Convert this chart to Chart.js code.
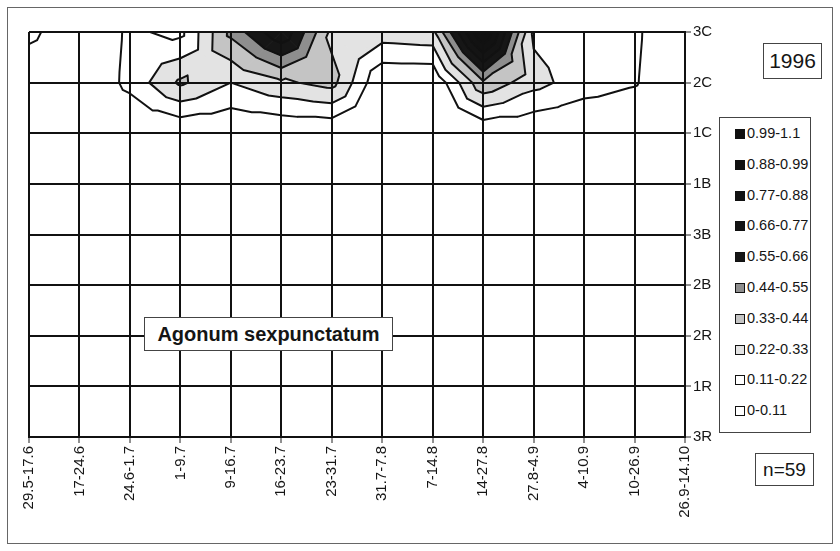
<!DOCTYPE html>
<html>
<head>
<meta charset="utf-8">
<script src="https://cdn.jsdelivr.net/npm/chart.js@4"></script>
<style>
  html, body { margin: 0; padding: 0; background: #fff; }
  #wrap { position: relative; width: 840px; height: 551px; overflow: hidden; }
  #frame { position: absolute; left: 7px; top: 7px; width: 826px; height: 537px; border: 1px solid #666; box-sizing: border-box; }
  #c { position: absolute; left: 0; top: 0; }
  .box { position: absolute; border: 1px solid #444; background: #fff; color: #151515;
         font-family: 'Liberation Sans', Arial, sans-serif; box-sizing: border-box; }
  #year { left: 763px; top: 43px; width: 59px; height: 36px; font-size: 21px; line-height: 34px; text-align: center; }
  #count { left: 755px; top: 453px; width: 59px; height: 33px; font-size: 19px; line-height: 31px; text-align: center; }
  #species { left: 144px; top: 317px; width: 249px; height: 34px; font-size: 20px; font-weight: bold; line-height: 32px; text-align: center; }
  #legend { left: 719px; top: 117px; width: 92px; height: 316px; }
  .item { position: absolute; left: 15px; height: 20px; font-size: 14.5px; line-height: 20px; white-space: nowrap; }
  .sw { display: inline-block; width: 10px; height: 10px; border: 1px solid #111; box-sizing: border-box; vertical-align: -1px; margin-right: 2px; }
</style>
</head>
<body>
<div id="wrap">
  <div id="frame"></div>
  <canvas id="c" width="840" height="551"></canvas>
  <div class="box" id="year">1996</div>
  <div class="box" id="legend"></div>
  <div class="box" id="species">Agonum sexpunctatum</div>
  <div class="box" id="count">n=59</div>
</div>
<script>
// Sampling periods along the x axis
const xLabels = ['29.5-17.6', '17-24.6', '24.6-1.7', '1-9.7', '9-16.7', '16-23.7', '23-31.7',
                 '31.7-7.8', '7-14.8', '14-27.8', '27.8-4.9', '4-10.9', '10-26.9', '26.9-14.10'];
// Trap rows, top to bottom
const yLabels = ['3C', '2C', '1C', '1B', '3B', '2B', '2R', '1R', '3R'];

// Relative catch per trap row and period
const z3C = [0.145, 0, 0.13, 0.08, 0.47, 0.76, 0.30, 0.28, 0.30, 1.02, 0.20, 0.15, 0.13, 0];
const z2C = [0, 0, 0.14, 0.35, 0.22, 0.31, 0.37, 0, 0, 0.42, 0.26, 0.16, 0.12, 0];
const z1C = [0, 0, 0, 0, 0, 0, 0, 0, 0, 0, 0, 0, 0, 0];
const z1B = [0, 0, 0, 0, 0, 0, 0, 0, 0, 0, 0, 0, 0, 0];
const z3B = [0, 0, 0, 0, 0, 0, 0, 0, 0, 0, 0, 0, 0, 0];
const z2B = [0, 0, 0, 0, 0, 0, 0, 0, 0, 0, 0, 0, 0, 0];
const z2R = [0, 0, 0, 0, 0, 0, 0, 0, 0, 0, 0, 0, 0, 0];
const z1R = [0, 0, 0, 0, 0, 0, 0, 0, 0, 0, 0, 0, 0, 0];
const z3R = [0, 0, 0, 0, 0, 0, 0, 0, 0, 0, 0, 0, 0, 0];
const rows = [z3C, z2C, z1C, z1B, z3B, z2B, z2R, z1R, z3R];

// Contour band limits and their legend labels (lowest band first)
const levels = [0, 0.11, 0.22, 0.33, 0.44, 0.55, 0.66, 0.77, 0.88, 0.99, 1.1];
const bandLabels = ['0-0.11', '0.11-0.22', '0.22-0.33', '0.33-0.44', '0.44-0.55',
                    '0.55-0.66', '0.66-0.77', '0.77-0.88', '0.88-0.99', '0.99-1.1'];
const bandColors = ['#ffffff', '#ffffff', '#e3e3e3', '#c4c4c4', '#8e8e8e',
                    '#161616', '#141414', '#121212', '#111111', '#101010'];

const FONT = "'Liberation Sans', Arial, sans-serif";

// Legend, highest band on top
(function buildLegend() {
  const el = document.getElementById('legend');
  for (let k = bandLabels.length - 1, n = 0; k >= 0; k--, n++) {
    const d = document.createElement('div');
    d.className = 'item';
    d.style.top = (5 + n * 30.8) + 'px';
    d.innerHTML = '<span class="sw" style="background:' + bandColors[k] + '"></span>' + bandLabels[k];
    el.appendChild(d);
  }
})();

// Keep the part of a polygon on one side of a level of z
function clipPoly(poly, level, keepAbove) {
  const out = [];
  for (let k = 0; k < poly.length; k++) {
    const a = poly[k], b = poly[(k + 1) % poly.length];
    const ina = keepAbove ? a.z >= level : a.z <= level;
    const inb = keepAbove ? b.z >= level : b.z <= level;
    if (ina) out.push(a);
    if (ina !== inb) {
      const t = (level - a.z) / (b.z - a.z);
      out.push({ x: a.x + t * (b.x - a.x), y: a.y + t * (b.y - a.y), z: level });
    }
  }
  return out;
}

// Filled contour bands and contour lines, drawn under the grid
const contourPlugin = {
  id: 'contour',
  beforeDraw(chart) {
    const { ctx, chartArea: area, scales: { x, y } } = chart;
    const nR = rows.length, nC = xLabels.length;
    const P = (i, r) => ({ x: x.getPixelForValue(i), y: y.getPixelForValue(nR - 1 - r), z: rows[r][i] });

    const tris = [];
    for (let r = 0; r < nR - 1; r++) {
      for (let i = 0; i < nC - 1; i++) {
        const tl = P(i, r), tr = P(i + 1, r), bl = P(i, r + 1), br = P(i + 1, r + 1);
        const c = { x: (tl.x + tr.x) / 2, y: (tl.y + bl.y) / 2, z: (tl.z + tr.z + bl.z + br.z) / 4 };
        tris.push([tl, tr, c], [tr, br, c], [br, bl, c], [bl, tl, c]);
      }
    }

    ctx.save();
    ctx.beginPath();
    ctx.rect(area.left, area.top, area.right - area.left, area.bottom - area.top);
    ctx.clip();
    ctx.fillStyle = '#fff';
    ctx.fillRect(area.left, area.top, area.right - area.left, area.bottom - area.top);

    for (let b = 0; b < bandColors.length; b++) {
      if (bandColors[b] === '#ffffff') continue;
      const lo = levels[b], hi = levels[b + 1];
      ctx.fillStyle = bandColors[b];
      ctx.strokeStyle = bandColors[b];
      ctx.lineWidth = 1;
      for (const t of tris) {
        const p = clipPoly(clipPoly(t, lo, true), hi, false);
        if (p.length < 3) continue;
        ctx.beginPath();
        ctx.moveTo(p[0].x, p[0].y);
        for (let k = 1; k < p.length; k++) ctx.lineTo(p[k].x, p[k].y);
        ctx.closePath();
        ctx.fill();
        ctx.stroke();
      }
    }

    ctx.beginPath();
    for (let l = 1; l < levels.length - 1; l++) {
      const L = levels[l];
      for (const t of tris) {
        const pts = [];
        for (let k = 0; k < 3; k++) {
          const a = t[k], b = t[(k + 1) % 3];
          if ((a.z < L) !== (b.z < L)) {
            const s = (L - a.z) / (b.z - a.z);
            pts.push({ x: a.x + s * (b.x - a.x), y: a.y + s * (b.y - a.y) });
          }
        }
        if (pts.length === 2) {
          ctx.moveTo(pts[0].x, pts[0].y);
          ctx.lineTo(pts[1].x, pts[1].y);
        }
      }
    }
    ctx.strokeStyle = '#111';
    ctx.lineWidth = 2;
    ctx.lineCap = 'round';
    ctx.lineJoin = 'round';
    ctx.stroke();
    ctx.restore();
  }
};

new Chart(document.getElementById('c'), {
  type: 'scatter',
  data: { datasets: [] },
  options: {
    responsive: false,
    animation: false,
    devicePixelRatio: 1,
    layout: { padding: { left: 29, top: 32, right: 0, bottom: 0 } },
    plugins: { legend: { display: false }, tooltip: { enabled: false } },
    scales: {
      x: {
        type: 'linear', min: 0, max: xLabels.length - 1,
        grid: { color: '#111', lineWidth: 2, tickLength: 6, tickWidth: 1, tickColor: '#222' },
        border: { color: '#111', width: 2 },
        ticks: {
          stepSize: 1, autoSkip: false, minRotation: 90, maxRotation: 90, padding: 3,
          color: '#151515', font: { family: FONT, size: 15 },
          callback: v => xLabels[v]
        },
        afterFit(s) { s.height = 551 - 437; }
      },
      y: {
        type: 'linear', position: 'right', min: 0, max: yLabels.length - 1,
        grid: { color: '#111', lineWidth: 2, tickLength: 6, tickWidth: 1, tickColor: '#222' },
        border: { color: '#111', width: 2 },
        ticks: {
          stepSize: 1, autoSkip: false, padding: 2,
          color: '#151515', font: { family: FONT, size: 15 },
          callback: v => yLabels[yLabels.length - 1 - v]
        },
        afterFit(s) { s.width = 840 - 685; }
      }
    }
  },
  plugins: [contourPlugin]
});
</script>
</body>
</html>
